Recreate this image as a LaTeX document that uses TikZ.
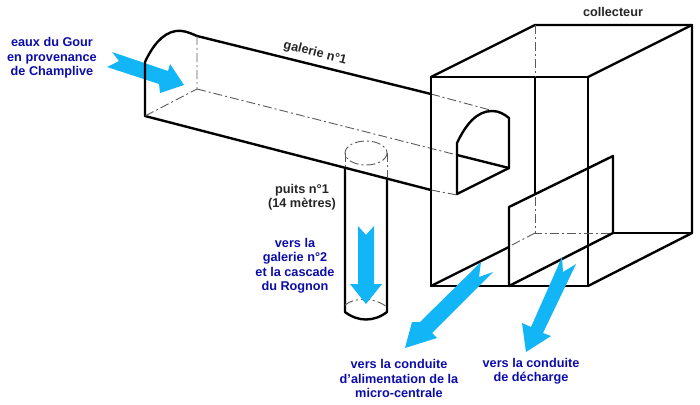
\documentclass[tikz,border=0pt]{standalone}
\usepackage{fontspec}
\setmainfont{Liberation Sans}
\usepackage{xcolor}
\usepackage{tikz}
\definecolor{FluxBlue}{RGB}{18, 181, 245}
\definecolor{LabelBlue}{RGB}{12, 12, 168}
\definecolor{HiddenGray}{RGB}{90, 90, 90}

\begin{document}
\begin{tikzpicture}[x=1pt, y=-1pt]
  \tikzstyle{wall} = [draw=black, line width=2.4pt, line join=round, line cap=round]
  \tikzstyle{hidden} = [draw=HiddenGray, line width=0.9pt, dash pattern=on 9pt off 3pt on 2pt off 3pt]
  \tikzstyle{flux} = [fill=FluxBlue, draw=none]
  \tikzstyle{bluelabel} = [text=LabelBlue, align=center, font=\fontsize{12.7}{14.5}\selectfont\bfseries, inner sep=0pt]
  \tikzstyle{blacklabel} = [text=black!85, align=center, font=\fontsize{12.7}{14.5}\selectfont\bfseries, inner sep=0pt]

  \useasboundingbox (0,0) rectangle (700,404);

  % incoming water, under the gallery outline
  \fill [flux] (112,52) -- (168,71) -- (170,64) -- (184,85) -- (160,93) -- (159,84) -- (107,67) -- (119,61) -- cycle;

  % galerie
  \draw [wall] (431,94) -- (197,36) .. controls (188,32) and (182,30) .. (176,31) .. controls (162,33) and (152,47) .. (145,62) -- (145,116) -- (431,190);
  \draw [hidden] (197,36) -- (197,89) -- (145,116);
  \draw [hidden] (197,89) -- (457,155);
  \draw [hidden] (431,94) -- (490,110);
  \draw [hidden] (431,190) -- (457,195);

  % puits
  \draw [wall] (345,168) -- (345,312) .. controls (358,322) and (374,322) .. (387,312) -- (387,178);
  \draw [hidden] (366,153) ellipse (21 and 12);
  \draw [hidden] (345,153) -- (345,168);
  \draw [hidden] (387,153) -- (387,178);
  \draw [hidden] (345,305) .. controls (355,297) and (374,297) .. (387,307);

  % collecteur
  \draw [wall] (431,286) -- (431,77) -- (588,77) -- (588,286) -- cycle;
  \draw [wall] (431,77) -- (535,25) -- (692,25) -- (692,233) -- (588,286);
  \draw [wall] (588,77) -- (692,25);
  \draw [wall] (613,233) -- (692,233);
  \draw [wall] (535,77) -- (535,194);
  \draw [hidden] (535,25) -- (535,77);
  \draw [hidden] (535,197) -- (535,233) -- (613,233);
  \draw [hidden] (535,233) -- (510,246);

  % ouverture
  \draw [wall] (457,194) -- (457,143) .. controls (466,124) and (477,111) .. (492,111) .. controls (499,111) and (504,114) .. (509,118) -- (509,168) -- (457,194);
  \draw [wall] (457,155) -- (509,168);

  % vanne
  \draw [wall] (509,286) -- (509,207) -- (613,156) -- (613,233) -- (509,286);
  \draw [wall] (431,286) -- (509,247);

  % other water paths
  \fill [flux] (358,226) -- (366,235) -- (374,226) -- (374,284) -- (382,284) -- (366,304) -- (350,284) -- (358,284) -- cycle;
  \fill [flux] (481,262) -- (479,277) -- (493,272) -- (432,333) -- (437,338) -- (405,348) -- (412,322) -- (420,322) -- cycle;
  \fill [flux] (562,257) -- (563,272) -- (576,264) -- (543,333) -- (551,336) -- (526,352) -- (522,323) -- (531,327) -- cycle;

  % labels
  \node [bluelabel] (gour) at (52,58) {eaux du Gour\\en provenance\\de Champlive};
  \node [blacklabel, rotate=-14] (galerie) at (315,53) {galerie n°1};
  \node [blacklabel] (collecteur) at (613,12) {collecteur};
  \node [blacklabel] (puits) at (302,197) {puits n°1\\(14 mètres)};
  \node [bluelabel] (rognon) at (295,265.5) {vers la\\galerie n°2\\et la cascade\\du Rognon};
  \node [bluelabel] (centrale) at (399,378.5) {vers la conduite\\d'alimentation de la\\micro-centrale};
  \node [bluelabel] (decharge) at (531,371) {vers la conduite\\de décharge};
\end{tikzpicture}
\end{document}
